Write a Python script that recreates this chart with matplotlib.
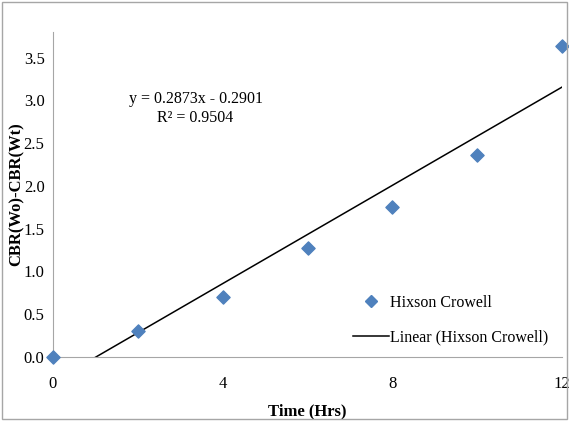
import numpy as np
import matplotlib.pyplot as plt
from matplotlib.lines import Line2D

# Hixson Crowell data
time_hrs = [0, 2, 4, 6, 8, 10, 12]
cbr_diff = [0.0, 0.30, 0.70, 1.28, 1.75, 2.36, 3.64]
x_ticks = [0, 4, 8, 12]
y_ticks = [0.0, 0.5, 1.0, 1.5, 2.0, 2.5, 3.0, 3.5]

plt.rcParams['font.family'] = ['Liberation Serif', 'DejaVu Serif']

fig = plt.figure(figsize=(5.69, 4.21), dpi=100)
ax = fig.add_axes([0.093, 0.152, 0.895, 0.772])

# border round the whole chart
fig.patches.append(plt.Rectangle((0.004, 0.004), 0.992, 0.992, transform=fig.transFigure,
                                 fill=False, edgecolor="#a6a6a6", linewidth=1))

slope, intercept = np.polyfit(time_hrs, cbr_diff, 1)
xs = np.array([0, 12])
ax.plot(xs, slope * xs + intercept, color="black", linewidth=1.1, zorder=2)
ax.scatter(time_hrs, cbr_diff, marker="D", s=45, color="#4F81BD", zorder=3, clip_on=False)

ax.set_xlim(0, 12)
ax.set_ylim(0, 3.8)
ax.set_xticks(x_ticks)
ax.set_yticks(y_ticks)
ax.set_yticklabels(["%.1f" % v for v in y_ticks])
ax.tick_params(length=0, labelsize=12, pad=6)
ax.tick_params(axis="x", pad=14)

for side in ["top", "right"]:
    ax.spines[side].set_visible(False)
for side in ["left", "bottom"]:
    ax.spines[side].set_color("#a6a6a6")

ax.set_xlabel("Time (Hrs)", fontsize=12, fontweight="bold", labelpad=8)
ax.set_ylabel("CBR(Wo)-CBR(Wt)", fontsize=12, fontweight="bold", labelpad=-1)

ax.text(0.28, 0.765, "y = 0.2873x - 0.2901\nR² = 0.9504", transform=ax.transAxes,
        ha="center", va="center", fontsize=11.5, linespacing=1.3)

handles = [Line2D([], [], marker="D", color="#4F81BD", linestyle="none", markersize=6),
           Line2D([], [], color="black", linewidth=1.1)]
ax.legend(handles, ["Hixson Crowell", "Linear (Hixson Crowell)"], loc="lower left",
          bbox_to_anchor=(0.562, -0.01), frameon=False, fontsize=11.5, handlelength=2.2,
          handletextpad=0.1, labelspacing=1.2)

fig.savefig("out.png", dpi=100)
